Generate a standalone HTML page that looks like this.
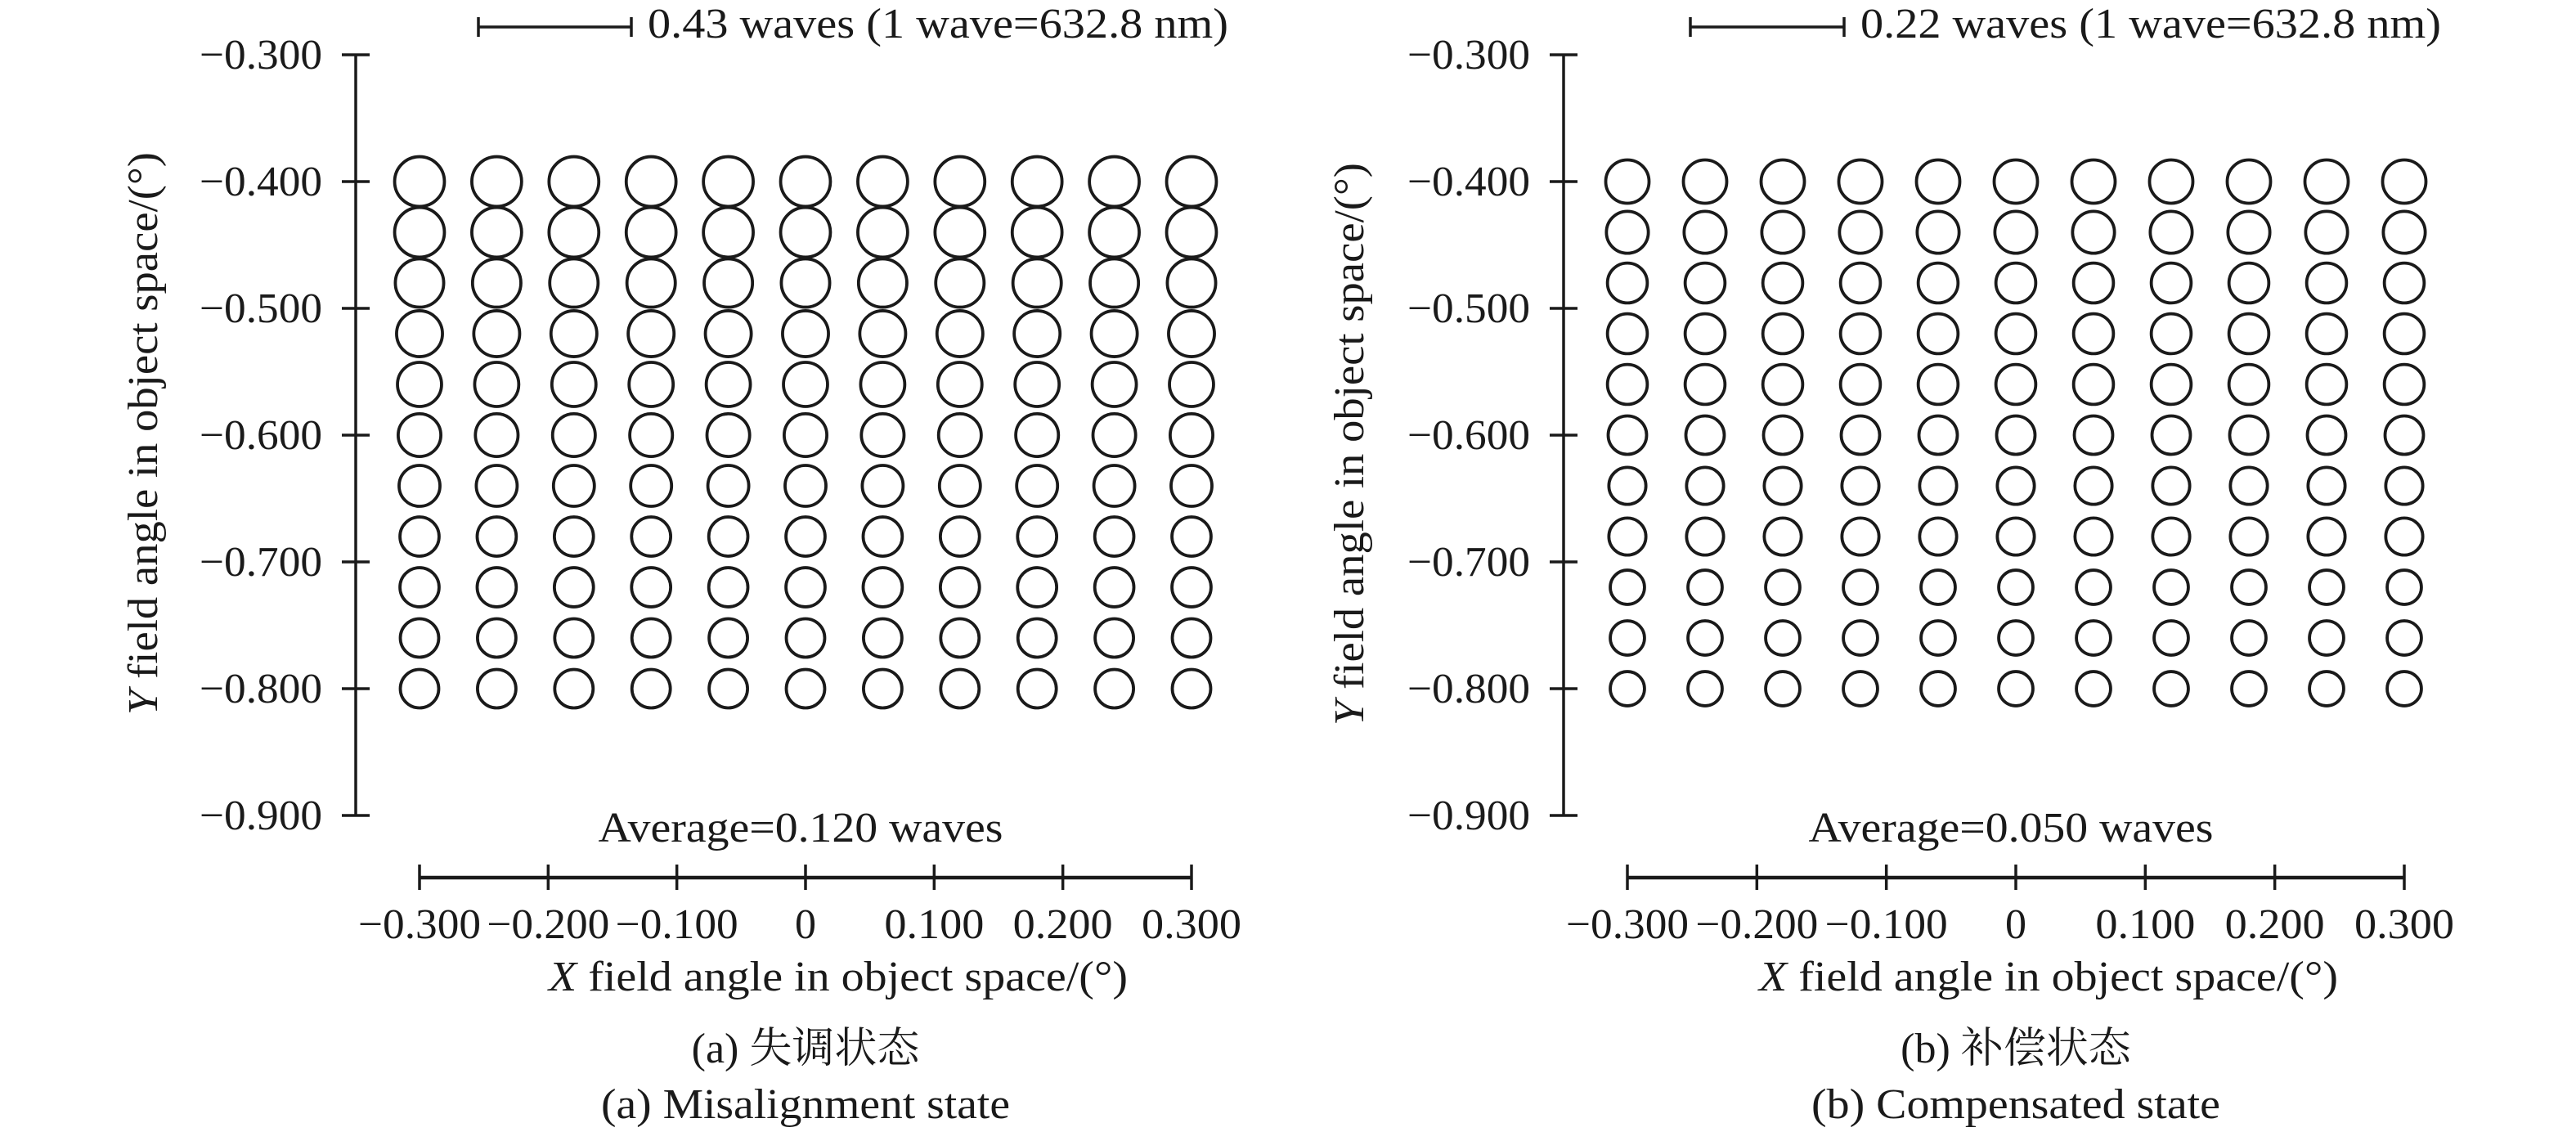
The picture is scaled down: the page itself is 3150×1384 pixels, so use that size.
<!DOCTYPE html>
<html><head><meta charset="utf-8"><style>
html,body{margin:0;padding:0;background:#fff;}
svg{display:block;}
text{font-family:"Liberation Serif","Noto Serif CJK SC","Noto Sans CJK SC",serif;fill:#1a1a1a;}
</style></head>
<body>
<svg id="fig" width="3150" height="1384" viewBox="0 0 3150 1384" xmlns="http://www.w3.org/2000/svg"></svg>
<script>
// ---- data ----
const yRows = [-0.40,-0.44,-0.48,-0.52,-0.56,-0.60,-0.64,-0.68,-0.72,-0.76,-0.80];
const xCols = [-0.30,-0.24,-0.18,-0.12,-0.06,0,0.06,0.12,0.18,0.24,0.30];
const yTicks = [-0.3,-0.4,-0.5,-0.6,-0.7,-0.8,-0.9];
const yTickLabels = ["\u22120.300","\u22120.400","\u22120.500","\u22120.600","\u22120.700","\u22120.800","\u22120.900"];
const xTicks = [-0.3,-0.2,-0.1,0,0.1,0.2,0.3];
const xTickLabels = ["\u22120.300","\u22120.200","\u22120.100","0","0.100","0.200","0.300"];
// wavefront error per row (waves), circle diameter proportional
const waveA = [0.140,0.140,0.136,0.129,0.124,0.120,0.115,0.110,0.110,0.108,0.108];
const waveB = [0.062,0.060,0.057,0.057,0.057,0.055,0.053,0.053,0.049,0.049,0.049];
const scaleA = 0.43, scaleB = 0.22;

const NS = "http://www.w3.org/2000/svg";
const svg = document.getElementById('fig');
function el(tag, attrs, parent, txt){
  const e = document.createElementNS(NS, tag);
  for (const k in attrs) e.setAttribute(k, attrs[k]);
  if (txt !== undefined) e.textContent = txt;
  (parent||svg).appendChild(e);
  return e;
}
function tickLen(s){ return s.length >= 6 ? 150 : (s.length >= 5 ? 122 : null); }

function panel(o){
  const g = el('g', {});
  
  
  const yS = v => 67 + (-0.3 - v) / 0.6 * 930;
  const xS = v => o.x0 + (v + 0.3) / 0.6 * (o.x1 - o.x0);
  const pxPerWave = o.barLen / o.scaleVal;
  const ya = el('line', {x1:o.ax, y1:yS(-0.3), x2:o.ax, y2:yS(-0.9), stroke:'#1a1a1a','stroke-width':3.5}, g);
  
  
  yTicks.forEach((t,i)=>{
    const tk = el('line', {x1:o.ax-17, y1:yS(t), x2:o.ax+17, y2:yS(t), stroke:'#1a1a1a','stroke-width':3.5}, g);
    
    
    const a = {x:o.ax-41, y:yS(t)+17, 'font-size':52, 'text-anchor':'end'};
    const L = tickLen(yTickLabels[i]); if (L) { a.textLength = L; a.lengthAdjust = 'spacingAndGlyphs'; }
    const lb = el('text', a, g, yTickLabels[i]);
    
    
  });
  const yt = el('text', {transform:`translate(${o.ytx},${o.yty}) rotate(-90)`, 'font-size':52, 'text-anchor':'middle', textLength:688, lengthAdjust:'spacingAndGlyphs'}, g);
  
  
  el('tspan', {'font-style':'italic'}, yt, 'Y');
  el('tspan', {}, yt, ' field angle in object space/(\u00b0)');
  yRows.forEach((yv,ri)=>{
    xCols.forEach(xv=>{
      const c = el('circle', {cx:xS(xv), cy:yS(yv), r:o.waves[ri]*pxPerWave/2, fill:'none', stroke:'#1a1a1a','stroke-width':3.8}, g);
      
      
    });
  });
  const sb = el('g', {}, g);
  
  
  el('line', {x1:o.barX, y1:33, x2:o.barX+o.barLen, y2:33, stroke:'#1a1a1a','stroke-width':3.5}, sb);
  el('line', {x1:o.barX, y1:21, x2:o.barX, y2:45, stroke:'#1a1a1a','stroke-width':3.5}, sb);
  el('line', {x1:o.barX+o.barLen, y1:21, x2:o.barX+o.barLen, y2:45, stroke:'#1a1a1a','stroke-width':3.5}, sb);
  const st = el('text', {x:o.barX+o.barLen+20, y:46, 'font-size':52, textLength:710, lengthAdjust:'spacingAndGlyphs'}, g, o.scaleText);
  
  
  const cx = (o.x0+o.x1)/2;
  const av = el('text', {x:cx-6, y:1029, 'font-size':52, 'text-anchor':'middle', textLength:495, lengthAdjust:'spacingAndGlyphs'}, g, o.avgText);
  
  
  const xa = el('line', {x1:xS(-0.3), y1:1073, x2:xS(0.3), y2:1073, stroke:'#1a1a1a','stroke-width':4.5}, g);
  
  
  xTicks.forEach((t,i)=>{
    const tk = el('line', {x1:xS(t), y1:1057, x2:xS(t), y2:1088, stroke:'#1a1a1a','stroke-width':3.5}, g);
    
    
    const a = {x:xS(t), y:1147, 'font-size':52, 'text-anchor':'middle'};
    const L = tickLen(xTickLabels[i]); if (L) { a.textLength = L; a.lengthAdjust = 'spacingAndGlyphs'; }
    const lb = el('text', a, g, xTickLabels[i]);
    
    
  });
  const xt = el('text', {x:cx+40, y:1211, 'font-size':52, 'text-anchor':'middle', textLength:708, lengthAdjust:'spacingAndGlyphs'}, g);
  
  
  el('tspan', {'font-style':'italic'}, xt, 'X');
  el('tspan', {}, xt, ' field angle in object space/(\u00b0)');
  const c1 = el('text', {x:cx, y:1299, 'font-size':52, 'text-anchor':'middle'}, g, o.capCN);
  
  
  const c2 = el('text', {x:cx, y:1367, 'font-size':52, 'text-anchor':'middle', textLength:500, lengthAdjust:'spacingAndGlyphs'}, g, o.capEN);
  
  
}

panel({id:'panel-misalignment', ax:435, x0:513, x1:1457, ytx:192, yty:530,
  waves:waveA, scaleVal:scaleA, barX:585, barLen:187,
  scaleText:'0.43 waves (1 wave=632.8 nm)', avgText:'Average=0.120 waves',
  capCN:'(a) 失调状态', capEN:'(a) Misalignment state'});
panel({id:'panel-compensated', ax:1912, x0:1990, x1:2940, ytx:1667, yty:543,
  waves:waveB, scaleVal:scaleB, barX:2067, barLen:188,
  scaleText:'0.22 waves (1 wave=632.8 nm)', avgText:'Average=0.050 waves',
  capCN:'(b) 补偿状态', capEN:'(b) Compensated state'});
</script>
</body></html>
